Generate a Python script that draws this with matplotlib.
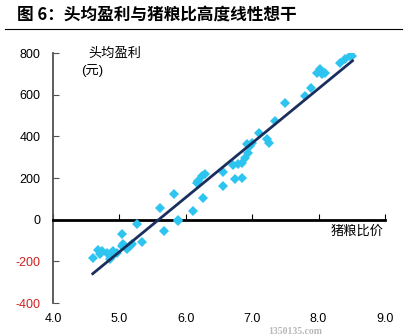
import numpy as np
import matplotlib.pyplot as plt

plt.rcParams['font.family'] = ['Liberation Sans', 'Noto Sans CJK SC', 'DejaVu Sans']

# pig-grain price ratio vs. profit per head (yuan)
ratio = [4.60, 4.68, 4.74, 4.71, 4.81, 4.89, 4.90, 4.86, 4.96, 5.04, 5.05, 5.11,
         5.16, 5.19, 5.04, 5.26, 5.34, 5.61, 5.68, 5.82, 5.88, 5.88,
         6.11, 6.26, 6.18, 6.24, 6.29, 6.17, 6.56, 6.56, 6.74, 6.84, 6.71, 6.78,
         6.84, 6.89, 6.93, 6.92, 6.99, 6.96, 7.11, 7.22, 7.26, 7.34,
         7.49, 7.79, 7.89, 8.02, 8.05, 8.09, 7.98, 8.32, 8.39, 8.47, 8.51]
profit = [-182, -144, -149, -163, -158, -173, -149, -187, -158, -125, -115, -139,
          -125, -115, -67, -19, -106, 58, -53, 125, 0, -5,
          43, 106, 187, 211, 221, 178, 163, 230, 197, 202, 264, 269,
          274, 298, 322, 365, 370, 355, 418, 389, 370, 475,
          562, 595, 634, 725, 701, 706, 706, 754, 773, 787, 787]

# fitted line end points
fit_x = [4.60, 8.51]
fit_y = [-259, 763]

xticks = [4.0, 5.0, 6.0, 7.0, 8.0, 9.0]
yticks = [-400, -200, 0, 200, 400, 600, 800]

fig = plt.figure(figsize=(4.07, 3.36), dpi=100)
ax = fig.add_axes([0.130, 0.098, 0.816, 0.744])

ax.plot(ratio, profit, 'D', color='#2EC4F0', markersize=5.2, markeredgewidth=0, zorder=3)
ax.plot(fit_x, fit_y, color='#1B2F5E', linewidth=2, zorder=4)

ax.set_xlim(4.0, 9.0)
ax.set_ylim(-400, 800)

for s in ['top', 'right']:
    ax.spines[s].set_visible(False)
ax.spines['left'].set_color('#505050')
ax.spines['left'].set_linewidth(1.3)
ax.spines['bottom'].set_position(('data', 0))
ax.spines['bottom'].set_linewidth(2)

ax.set_yticks(yticks)
ax.set_yticklabels([str(v) for v in yticks])
ax.tick_params(axis='y', direction='in', length=4, pad=9, labelsize=9, color='#505050')
for lab, v in zip(ax.get_yticklabels(), yticks):
    if v < 0:
        lab.set_color('#D02020')

ax.set_xticks(xticks)
ax.tick_params(axis='x', direction='in', length=4, labelbottom=False)

sec = ax.secondary_xaxis('bottom')
sec.set_xticks(xticks)
sec.set_xticklabels(['%.1f' % v for v in xticks])
sec.tick_params(length=0, pad=7, labelsize=9)
sec.spines['bottom'].set_visible(False)

ax.text(0.105, 0.995, '头均盈利', transform=ax.transAxes, fontsize=9.5, ha='left', va='center')
ax.text(0.118, 0.93, '(元)', transform=ax.transAxes, fontsize=9.5, ha='center', va='center')
ax.text(0.995, 0.31, '猪粮比价', transform=ax.transAxes, fontsize=9.5, ha='right', va='top')

fig.text(0.042, 0.958, '图 6：头均盈利与猪粮比高度线性想干', fontsize=12, fontweight='bold',
         ha='left', va='center', family=['Noto Sans CJK SC', 'DejaVu Sans'])
fig.add_artist(plt.Line2D([0.012, 0.988], [0.913, 0.913], color='black', linewidth=0.8))

# watermark, kept below the tick labels
fig.text(0.66, 0.0, '1350135.com', fontsize=7, color='#B8B8B8', fontweight='bold',
         family='Liberation Serif', ha='left', va='bottom')

fig.savefig('out.png', dpi=100)
